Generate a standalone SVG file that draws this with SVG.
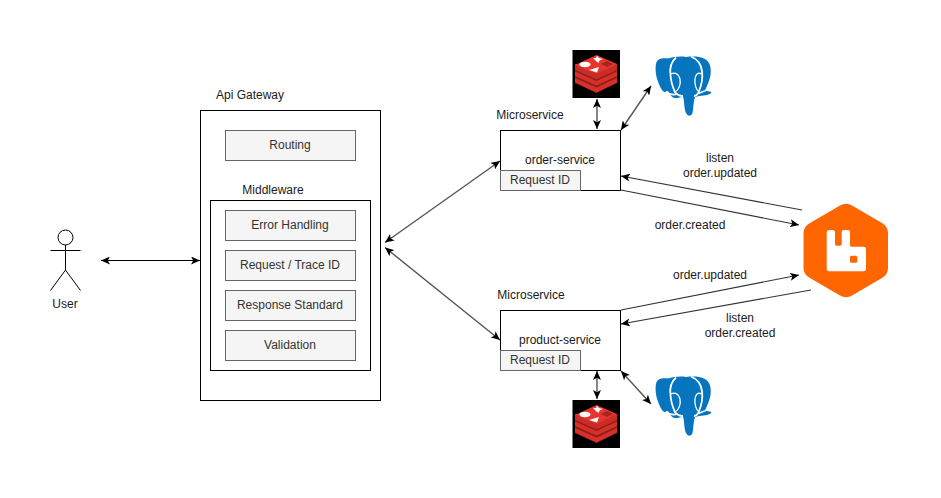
<svg xmlns="http://www.w3.org/2000/svg" width="941" height="498" viewBox="0 0 941 498">
<style>
text{font-family:"Liberation Sans",Arial,sans-serif;font-size:12px;fill:#1a1a1a;text-anchor:middle}
.box{fill:#fff;stroke:#000;stroke-width:1}
.sub{fill:#f5f5f5;stroke:#666;stroke-width:1}
.sub-t{fill:#333}
.c{fill:none;stroke:#000;stroke-width:1;marker-start:url(#a);marker-end:url(#a)}
.g{stroke:#555;stroke-width:1.400}
.e{fill:none;stroke:#333;stroke-width:1.100;marker-end:url(#a)}
</style>
<defs>
<marker id="a" viewBox="0 0 10 8" refX="9" refY="4" markerWidth="10" markerHeight="8" markerUnits="userSpaceOnUse" orient="auto-start-reverse"><path d="M0 0L9 4L0 8L2.200 4Z" fill="#000"/></marker>
<g id="redis">
<rect x="572.500" y="50" width="47.500" height="48" fill="#000"/>
<path d="M575 65V83L596.500 93L617 83V65Z" fill="#8f1d19"/>
<path d="M575 71.500L596.500 81L617 71.500V76L596.500 85.500L575 76Z" fill="#d6302a"/>
<path d="M575 64V70L596.500 79.500L617 70V64Z" fill="#c92b26"/>
<path d="M575 78L596.500 87.500L617 78V82.500L596.500 92.500L575 82.500Z" fill="#d6302a"/>
<path d="M596.500 55L617 64L596.500 74L575 65Z" fill="#e5352e"/>
<ellipse cx="585" cy="64.500" rx="5.500" ry="2.700" fill="#fff"/>
<path d="M593 58L596 58L597 55.500L599 58L603 59L599.500 60.500L598.500 63L596 61Z" fill="#fff"/>
<path d="M589 70L599 67L597 72.500Z" fill="#fff"/>
<path d="M601 64L607 61L613 64L607 67Z" fill="#a82420"/>
</g>
<g id="pg">
<path d="M668 58.500C662 57.500 658 58.500 656.500 62C655 66 655.500 72 656.500 77C658 82 660 87 662 90C664 92.500 666 92.500 668 91C669 93 671 96 673 97.500C676 98.500 679 98 683 96.500C684.500 101 684 109 686 113C688 116.500 691 116.500 692.500 113C693.500 108 693.500 101 695 97C699 95.500 703 96 707 95C709 94.500 711 93.500 711.500 92L705 90.500C707 86 709.500 81 710.500 75C711.500 68 710 62 705 59C699 56 692 56.500 686 57C680 56 673 57 668 58.500Z" fill="#0575c0"/>
<path d="M676 57.500C671 62 669.500 68 670.500 75C671 81 672.500 87 675 92C677 95 680 96 683 96" fill="none" stroke="#fff" stroke-width="1.800"/>
<path d="M691 56.500C697 59 701 64 702 71C703 78 701.500 85 699 91C698 94 696 96 694 96" fill="none" stroke="#fff" stroke-width="1.800"/>
<path d="M671 74C675 72 679 74 680 79C681 84 679 90 675 92" fill="none" stroke="#fff" stroke-width="1.300"/>
<path d="M702 74C698 72 695.500 74 695 79C694.500 84 696 90 699 92" fill="none" stroke="#fff" stroke-width="1.300"/>
<path d="M666 91.500C669 94.500 672 95 676 94.500M698 93.500C701 92.500 703 91.500 706 90.500" fill="none" stroke="#fff" stroke-width="1.600"/>
</g>
</defs>
<g id="connectors">
<line class="c" x1="101" y1="260.500" x2="200" y2="260.500"/>
<line class="c g" x1="385" y1="242.500" x2="500" y2="161"/>
<line class="c g" x1="385" y1="247.500" x2="500" y2="340"/>
<line class="c g" x1="597" y1="99" x2="597" y2="129"/>
<line class="c g" x1="621" y1="130" x2="651" y2="86"/>
<line class="c g" x1="597" y1="371" x2="597" y2="399"/>
<line class="c g" x1="621" y1="371" x2="651" y2="404"/>
<line class="e" x1="802" y1="210" x2="621" y2="176"/>
<line class="e" x1="621" y1="190" x2="799" y2="225"/>
<line class="e" x1="621" y1="310" x2="799" y2="275"/>
<line class="e" x1="811" y1="290" x2="621" y2="324"/>
</g>
<g id="user">
<circle cx="65.500" cy="237.500" r="7.500" fill="#fff" stroke="#000"/>
<path d="M65.500 245V270M50.500 250.500H80.500M65.500 270L50.500 290.500M65.500 270L80.500 290.500" fill="none" stroke="#000"/>
<text x="65" y="308">User</text>
</g>
<g id="api-gateway">
<rect class="box" x="200.500" y="110.500" width="180" height="290"/>
<text x="250" y="99">Api Gateway</text>
</g>
<g id="routing"><rect class="sub" x="225.500" y="130.500" width="130" height="30"/><text class="sub-t" x="290" y="149">Routing</text></g>
<g id="middleware">
<rect class="box" x="210.500" y="200.500" width="160" height="170"/>
<text x="273" y="194">Middleware</text>
</g>
<g id="error-handling"><rect class="sub" x="225.500" y="210.500" width="130" height="30"/><text class="sub-t" x="290" y="229">Error Handling</text></g>
<g id="trace-id"><rect class="sub" x="225.500" y="250.500" width="130" height="30"/><text class="sub-t" x="290" y="269">Request / Trace ID</text></g>
<g id="response-standard"><rect class="sub" x="225.500" y="290.500" width="130" height="30"/><text class="sub-t" x="290" y="309">Response Standard</text></g>
<g id="validation"><rect class="sub" x="225.500" y="330.500" width="130" height="30"/><text class="sub-t" x="290" y="349">Validation</text></g>
<g id="order-service">
<text x="530" y="119">Microservice</text>
<rect class="box" x="500.500" y="130.500" width="120" height="60"/>
<text x="560" y="164">order-service</text>
<rect class="sub" x="500.500" y="170.500" width="80" height="20"/><text class="sub-t" x="540" y="184">Request ID</text>
</g>
<g id="product-service">
<text x="531" y="299">Microservice</text>
<rect class="box" x="500.500" y="310.500" width="120" height="60"/>
<text x="560" y="344">product-service</text>
<rect class="sub" x="500.500" y="350.500" width="80" height="20"/><text class="sub-t" x="540" y="364">Request ID</text>
</g>
<g id="redis-top"><use href="#redis"/></g>
<g id="redis-bottom"><use href="#redis" y="350"/></g>
<g id="postgres-top"><use href="#pg"/></g>
<g id="postgres-bottom"><use href="#pg" y="320"/></g>
<g id="rabbitmq">
<path d="M840 205.500Q846 202 852 205.500L882 223Q888 226.500 888 233V268Q888 274.500 882 278L852 295.500Q846 299 840 295.500L810 278Q803.500 274.500 803.500 268V233Q803.500 226.500 810 223Z" fill="#ff6600"/>
<path d="M829 230Q826.700 230 826.700 232.500V269Q826.700 271.200 829 271.200H863.500Q866 271.200 866 269V249Q866 246.700 863.500 246.700H851.500Q850 246.700 850 245V232Q850 230 848 230H843.700Q841.700 230 841.700 232V244Q841.700 245.700 840 245.700H837Q835 245.700 835 244V232.500Q835 230 832.500 230Z" fill="#fff"/>
<rect x="850" y="255.700" width="7.300" height="7" rx="1.500" fill="#ff6600"/>
</g>
<g id="labels">
<text x="720" y="162">listen</text>
<text x="720" y="177">order.updated</text>
<text x="690" y="229">order.created</text>
<text x="710" y="279">order.updated</text>
<text x="740" y="322">listen</text>
<text x="740" y="337">order.created</text>
</g>
</svg>
